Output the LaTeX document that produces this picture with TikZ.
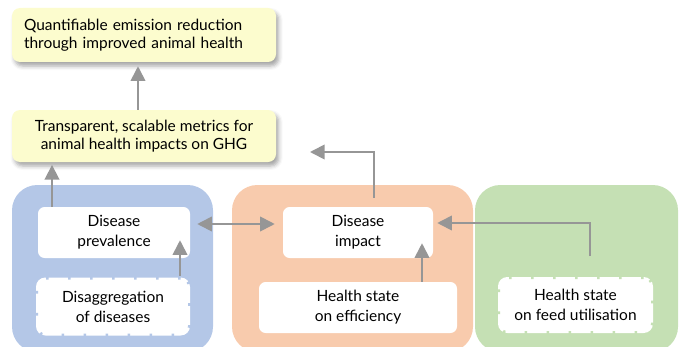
\documentclass[tikz,border=0pt]{standalone}
\usepackage{fontspec}
\setmainfont{Lato}
\usetikzlibrary{arrows.meta,shadows.blur}

\definecolor{goalyellow}{RGB}{252,252,206}
\definecolor{prevblue}{RGB}{180,199,231}
\definecolor{impactorange}{RGB}{248,203,173}
\definecolor{feedgreen}{RGB}{197,224,180}
\definecolor{arrowgrey}{RGB}{150,150,150}

\tikzset{
    region/.style={rounded corners=19pt, inner sep=0pt, minimum height=125.25pt},
    goalbox/.style={fill=goalyellow, rounded corners=6pt, inner sep=0pt,
        minimum width=198pt, font=\fontsize{11.6}{13.75}\selectfont,
        blur shadow={shadow xshift=2pt, shadow yshift=-3pt, shadow blur radius=3pt, shadow opacity=35}},
    whitebox/.style={fill=white, rounded corners=5pt, inner sep=0pt, align=center,
        minimum height=38.25pt, font=\fontsize{11.6}{15}\selectfont},
    roughbox/.style={whitebox, rounded corners=7pt, draw=#1, line width=3pt,
        dash pattern=on 2pt off 14.5pt},
    flow/.style={draw=arrowgrey, line width=1.3pt, -{Triangle[width=11pt,length=11pt]}},
    twoway/.style={flow, {Triangle[width=11pt,length=11pt]}-{Triangle[width=11pt,length=11pt]}}
}

\begin{document}
\begin{tikzpicture}[x=0.75pt, y=-0.75pt]
    \useasboundingbox (0,0) rectangle (684,346);
    \clip (0,0) rectangle (684,346);

    % Regions behind the boxes
    \node[region, fill=prevblue, minimum width=150.75pt] (blue) at (112.5,268.5) {};
    \node[region, fill=impactorange, minimum width=180.75pt] (orange) at (352.5,268.5) {};
    \node[region, fill=feedgreen, minimum width=152.25pt] (green) at (576.5,268.5) {};

    % Outcome boxes
    \node[goalbox, minimum height=40.5pt, text width=180pt, align=left] (goal) at (144,35)
        {Quantifiable emission reduction\\through improved animal health};
    \node[goalbox, minimum height=39pt, align=center] (metrics) at (144,136)
        {Transparent, scalable metrics for\\animal health impacts on GHG};

    % Blue column
    \node[whitebox, minimum width=114pt] (prev) at (114,232.5) {Disease\\prevalence};
    \node[roughbox=prevblue, minimum width=115.5pt, minimum height=43.5pt] (disagg) at (113,306.5)
        {Disaggregation\\of diseases};

    % Orange column
    \node[whitebox, minimum width=112.5pt] (impact) at (358,232.5) {Disease\\impact};
    \node[whitebox, minimum width=148.5pt] (eff) at (358,307.5) {Health state\\on efficiency};

    % Green column
    \node[roughbox=feedgreen, minimum width=116.25pt, minimum height=42pt] (feed) at (575.5,305)
        {Health state\\on feed utilisation};

    % Arrow columns and rows
    \coordinate (up) at (138,0);
    \coordinate (left) at (52,0);
    \coordinate (inner) at (180,0);
    \coordinate (right) at (422,0);
    \coordinate (feedup) at (590,0);
    \coordinate (mid) at (0,224);
    \coordinate (side) at (0,223);
    \coordinate (ret) at (310,152);

    % Connectors
    \draw[flow, shorten >=3pt] (metrics.north -| up) -- (goal.south -| up);
    \draw[flow, shorten >=2pt] (prev.north -| left) -- (metrics.south -| left);
    \draw[flow, shorten >=-13.5pt] (disagg.north -| inner) -- (prev.south -| inner);
    \draw[twoway, shorten <=5.25pt, shorten >=6pt] (prev.east |- mid) -- (impact.west |- mid);
    \draw[flow, shorten <=6.75pt] ([xshift=12pt]impact.north) |- (ret);
    \draw[flow, shorten >=-11.25pt] (eff.north -| right) -- (impact.south -| right);
    \draw[flow, shorten <=14.25pt, shorten >=3pt] (feed.north -| feedup) |- (impact.east |- side);
\end{tikzpicture}
\end{document}
